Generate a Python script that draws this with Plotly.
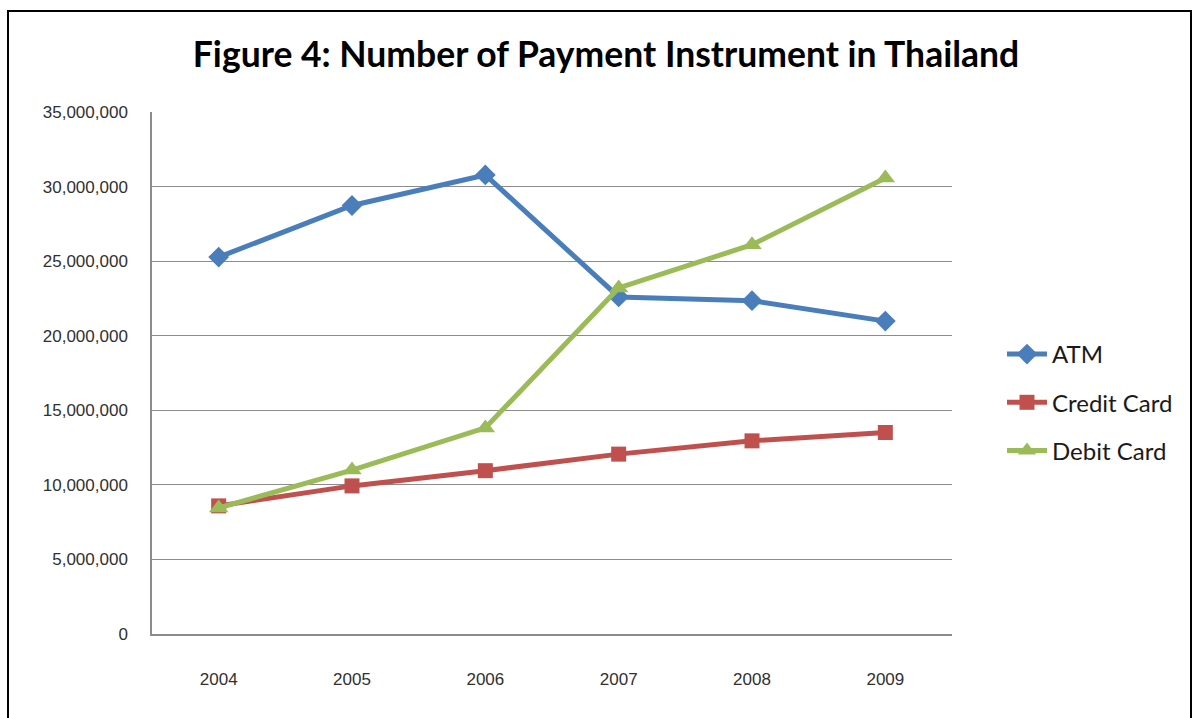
import plotly.graph_objects as go

years = ["2004", "2005", "2006", "2007", "2008", "2009"]
atm = [25270000, 28730000, 30780000, 22600000, 22350000, 20980000]
credit_card = [8590000, 9930000, 10950000, 12060000, 12950000, 13510000]
debit_card = [8450000, 10990000, 13820000, 23200000, 26100000, 30580000]

y_ticks = [0, 5000000, 10000000, 15000000, 20000000, 25000000, 30000000, 35000000]

W, H = 1197, 718
L, R, T, B = 152, 245, 112, 84
pw, ph = W - L - R, H - T - B

series = [
    ("ATM", atm, "#4A7EBB", "diamond", 16),
    ("Credit Card", credit_card, "#C0504D", "square", 15),
    ("Debit Card", debit_card, "#9BBB59", "triangle-up", 17),
]

fig = go.Figure()
for name, vals, color, symbol, msize in series:
    fig.add_trace(go.Scatter(
        x=years, y=vals, name=name, mode="lines+markers",
        legendgroup=name,
        line=dict(color=color, width=5),
        marker=dict(symbol=symbol, size=msize, color=color),
    ))

# outer frame around the whole chart
fig.add_shape(
    type="rect", xref="paper", yref="paper",
    x0=(8 - L) / pw, x1=(1191 - L) / pw,
    y0=-(H + 20 - T - ph) / ph, y1=(H - 11 - B) / ph,
    line=dict(color="#000000", width=2), fillcolor="rgba(0,0,0,0)",
    layer="below",
)

fig.update_layout(
    width=W, height=H,
    margin=dict(l=L, r=R, t=T, b=B),
    paper_bgcolor="white", plot_bgcolor="white",
    title=dict(
        text="<b>Figure 4: Number of Payment Instrument in Thailand</b>",
        x=606 / W, xanchor="center", xref="container",
        y=1 - 55 / H, yanchor="middle", yref="container",
        font=dict(family="Lato", size=35.5, color="#000000"),
    ),
    xaxis=dict(
        type="category", range=[-0.5, 5.5],
        showgrid=False, showline=True, linecolor="#8C8C8C", linewidth=1.5,
        ticks="", tickfont=dict(family="Liberation Sans", size=17, color="#303030"),
        ticklabelstandoff=29,
    ),
    yaxis=dict(
        range=[0, 35000000], tickvals=y_ticks, tickformat=",d",
        showgrid=True, gridcolor="#8C8C8C", gridwidth=1.2,
        showline=True, linecolor="#8C8C8C", linewidth=1.5,
        zeroline=False, ticks="",
        tickfont=dict(family="Liberation Sans", size=17, color="#303030"),
        ticklabelstandoff=19,
    ),
    legend=dict(
        x=(1002 - L) / pw, xanchor="left",
        y=(H - B - 332) / ph, yanchor="top",
        font=dict(family="Lato", size=24, color="#1A1A1A"),
        tracegroupgap=14, itemwidth=40,
        bgcolor="rgba(0,0,0,0)",
    ),
    showlegend=True,
)

fig.write_html("out.html")
